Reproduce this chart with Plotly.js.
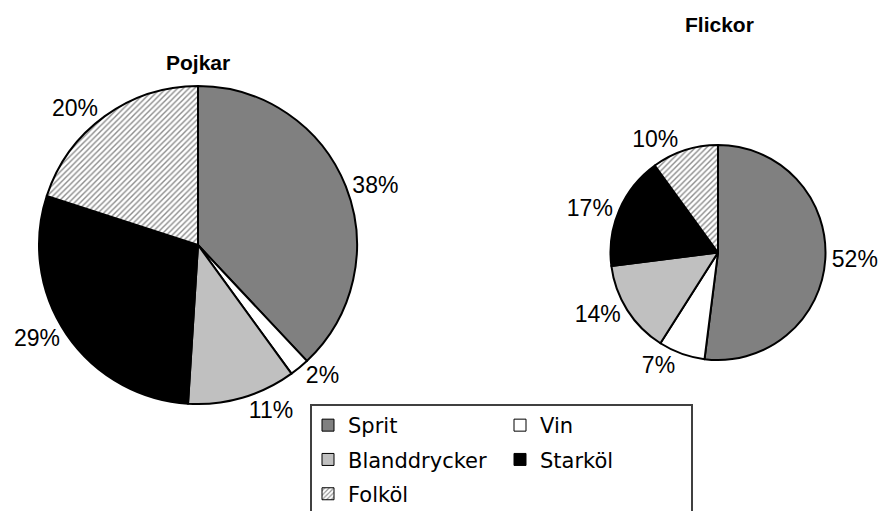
<!DOCTYPE html>
<html>
<head>
<meta charset="utf-8">
<script src="https://cdn.plot.ly/plotly-3.0.1.min.js"></script>
<style>html,body{margin:0;padding:0;background:#fff;}#chart{width:885px;height:511px;}</style>
</head>
<body>
<div id="chart"></div>
<script>
// ---- data ----
const categories = ['Sprit', 'Vin', 'Blanddrycker', 'Starköl', 'Folköl'];
const groups = ['Pojkar', 'Flickor'];
const pojkar = [38, 2, 11, 29, 20];
const flickor = [52, 7, 14, 17, 10];

// ---- styles ----
const sliceColors = ['#808080', '#ffffff', '#c0c0c0', '#000000', '#ffffff'];
const sliceShapes = ['', '', '', '', '/'];
const legendOf = ['legend', 'legend2', 'legend', 'legend2', 'legend'];
const hatch = {fgcolor: '#8c8c8c', bgcolor: '#ffffff', size: 4, solidity: 0.35};

function pieTrace(name, values, domain) {
  return {
    type: 'pie', name: name, labels: categories, values: values,
    sort: false, direction: 'clockwise', rotation: 0,
    domain: domain,
    marker: {colors: sliceColors, line: {color: '#000', width: 2},
             pattern: Object.assign({shape: sliceShapes}, hatch)},
    textposition: 'outside', texttemplate: '%{value}%',
    outsidetextfont: {family: 'Liberation Sans, Arial, sans-serif', size: 23, color: '#000'},
    showlegend: false, hoverinfo: 'label+percent'
  };
}

const traces = [
  pieTrace(groups[0], pojkar, {x: [39/885, 357/885], y: [1-404/511, 1-86/511]}),
  pieTrace(groups[1], flickor, {x: [610/885, 826/885], y: [1-360/511, 1-145/511]})
];

// legend-only entries (bars without a value) so the legend can be laid out in two columns
categories.forEach(function (c, i) {
  traces.push({
    type: 'bar', x: [c], y: [null], name: c, legend: legendOf[i], legendgroup: c,
    showlegend: true,
    marker: {color: sliceColors[i], line: {color: '#000', width: 1},
             pattern: Object.assign({shape: sliceShapes[i]}, hatch)}
  });
});

const legendFont = {family: 'DejaVu Sans, sans-serif', size: 21, color: '#000'};
const titleFont = {family: 'Liberation Sans, Arial, sans-serif', size: 21, color: '#000'};
const layout = {
  width: 885, height: 511,
  margin: {l: 0, r: 0, t: 0, b: 0, autoexpand: false},
  paper_bgcolor: '#fff', plot_bgcolor: '#fff',
  xaxis: {visible: false, fixedrange: true}, yaxis: {visible: false, fixedrange: true},
  showlegend: true,
  legend: {x: 308/885, y: 1-405/511, xanchor: 'left', yanchor: 'top',
           orientation: 'v', bgcolor: 'rgba(0,0,0,0)', borderwidth: 0,
           font: legendFont, tracegroupgap: 4, traceorder: 'grouped'},
  legend2: {x: 500/885, y: 1-405/511, xanchor: 'left', yanchor: 'top',
           orientation: 'v', bgcolor: 'rgba(0,0,0,0)', borderwidth: 0,
           font: legendFont, tracegroupgap: 4, traceorder: 'grouped'},
  shapes: [{type: 'rect', xref: 'paper', yref: 'paper',
            x0: 311/885, x1: 692/885, y0: 1-405/511, y1: -0.2,
            line: {color: '#404040', width: 2}, fillcolor: 'rgba(0,0,0,0)', layer: 'below'}],
  annotations: [
    {text: '<b>' + groups[0] + '</b>', x: 198/885, y: 1-62/511, xref: 'paper', yref: 'paper',
     xanchor: 'center', yanchor: 'middle', showarrow: false, font: titleFont},
    {text: '<b>' + groups[1] + '</b>', x: 719/885, y: 1-25/511, xref: 'paper', yref: 'paper',
     xanchor: 'center', yanchor: 'middle', showarrow: false, font: titleFont}
  ]
};

Plotly.newPlot('chart', traces, layout, {staticPlot: true, displayModeBar: false});
</script>
</body>
</html>
